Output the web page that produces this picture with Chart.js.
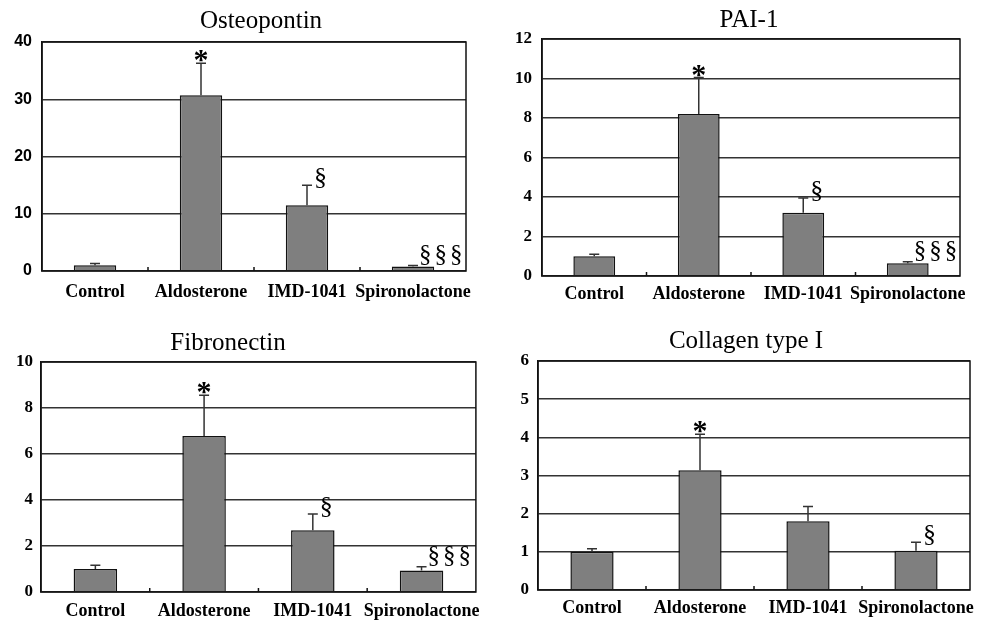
<!DOCTYPE html>
<html>
<head>
<meta charset="utf-8">
<script src="https://cdn.jsdelivr.net/npm/chart.js@4.4.1/dist/chart.umd.min.js"></script>
<style>
  html, body { margin: 0; padding: 0; background: #fff; }
  body { width: 986px; height: 623px; position: relative; overflow: hidden; }
  .panel { position: absolute; }
</style>
</head>
<body>
<div class="panel" id="p1" style="left:0;top:0;width:490px;height:310px"><canvas id="c1"></canvas></div>
<div class="panel" id="p2" style="left:490px;top:0;width:496px;height:310px"><canvas id="c2"></canvas></div>
<div class="panel" id="p3" style="left:0;top:310px;width:490px;height:313px"><canvas id="c3"></canvas></div>
<div class="panel" id="p4" style="left:490px;top:310px;width:496px;height:313px"><canvas id="c4"></canvas></div>
<script>
// --- Data ---
const groups = ['Control', 'Aldosterone', 'IMD-1041', 'Spironolactone'];

const osteoMean = [1.0, 30.7, 11.5, 0.8];
const osteoSE = [0.3, 5.6, 3.5, 0.15];
const osteoMarks = ['', '*', '§', '§§§'];

const paiMean = [1.0, 8.2, 3.2, 0.65];
const paiSE = [0.1, 1.85, 0.75, 0.07];
const paiMarks = ['', '*', '§', '§§§'];

const fibroMean = [1.0, 6.78, 2.68, 0.93];
const fibroSE = [0.16, 1.77, 0.71, 0.17];
const fibroMarks = ['', '*', '§', '§§§'];

const collMean = [1.0, 3.14, 1.8, 1.03];
const collSE = [0.08, 0.94, 0.39, 0.22];
const collMarks = ['', '*', '', '§'];

const SERIF = '"Liberation Serif", "Times New Roman", serif';
const SANS = '"Liberation Sans", Arial, sans-serif';

// error bars, markers, frame and inner category ticks
const extrasPlugin = {
    id: 'extras',
    afterDatasetsDraw(chart, args, opts) {
        const ctx = chart.ctx;
        const y = chart.scales.y;
        const x = chart.scales.x;
        const area = chart.chartArea;
        const meta = chart.getDatasetMeta(0);
        const mean = chart.data.datasets[0].data;

        ctx.save();
        ctx.lineWidth = 1.5;

        // frame
        ctx.strokeStyle = '#111';
        ctx.strokeRect(area.left, area.top, area.right - area.left, area.bottom - area.top);

        // small inward ticks between categories
        const step = x.getPixelForValue(1) - x.getPixelForValue(0);
        for (let i = 1; i < groups.length; i++) {
            const bx = x.getPixelForValue(i) - step / 2;
            ctx.beginPath();
            ctx.moveTo(bx, area.bottom);
            ctx.lineTo(bx, area.bottom - 4);
            ctx.stroke();
        }

        ctx.strokeStyle = '#333';
        meta.data.forEach((bar, i) => {
            const top = y.getPixelForValue(mean[i]);
            const errTop = y.getPixelForValue(mean[i] + opts.se[i]);
            ctx.beginPath();
            ctx.moveTo(bar.x, top);
            ctx.lineTo(bar.x, errTop);
            ctx.moveTo(bar.x - 5, errTop);
            ctx.lineTo(bar.x + 5, errTop);
            ctx.stroke();

            const m = opts.marks[i];
            if (!m) return;
            ctx.fillStyle = '#000';
            ctx.textBaseline = 'alphabetic';
            if (m === '*') {
                ctx.font = 'bold 30px ' + SERIF;
                ctx.textAlign = 'center';
                ctx.fillText(m, bar.x, errTop + 6);
            } else if (m.length === 1) {
                ctx.font = '26px ' + SERIF;
                ctx.textAlign = 'left';
                ctx.fillText(m, bar.x + 7, errTop);
            } else {
                ctx.font = '25px ' + SERIF;
                ctx.letterSpacing = '3px';
                ctx.textAlign = 'left';
                ctx.fillText(m, bar.x + 6, errTop - 4);
                ctx.letterSpacing = '0px';
            }
        });

        // panel title
        ctx.font = '25px ' + SERIF;
        ctx.textAlign = 'center';
        ctx.fillText(opts.title, opts.titleX, opts.titleY);
        ctx.restore();
    }
};

function makePanel(id, mean, se, marks, max, stepSize, cfg) {
    const canvas = document.getElementById(id);
    new Chart(canvas.getContext('2d'), {
        type: 'bar',
        data: {
            labels: groups,
            datasets: [{
                data: mean,
                backgroundColor: '#7f7f7f',
                borderColor: '#111',
                borderWidth: 1.5,
                barPercentage: 0.4,
                categoryPercentage: 1.0
            }]
        },
        options: {
            responsive: true,
            maintainAspectRatio: false,
            animation: false,
            layout: {
                padding: { left: 0, top: cfg.top, right: cfg.w - cfg.right, bottom: 0 }
            },
            plugins: {
                legend: { display: false },
                tooltip: { enabled: false },
                extras: { se: se, marks: marks, title: cfg.title, titleX: cfg.titleX, titleY: cfg.titleY }
            },
            scales: {
                x: {
                    grid: { display: false, drawTicks: false },
                    border: { display: false },
                    ticks: {
                        color: '#000',
                        padding: cfg.xPad,
                        maxRotation: 0,
                        autoSkip: false,
                        font: { family: SERIF, size: 18, weight: 'bold' }
                    },
                    afterFit: s => { s.height = cfg.h - cfg.bottom; }
                },
                y: {
                    min: 0,
                    max: max,
                    grid: { color: '#333', lineWidth: 1.5, drawTicks: false },
                    border: { display: true, color: '#111', width: 1.5 },
                    ticks: {
                        stepSize: stepSize,
                        color: '#000',
                        padding: cfg.yPad,
                        font: { family: cfg.tickFamily, size: cfg.tickSize, weight: 'bold' }
                    },
                    afterFit: s => { s.width = cfg.left; }
                }
            }
        },
        plugins: [extrasPlugin]
    });
}

makePanel('c1', osteoMean, osteoSE, osteoMarks, 40, 10,
    { w: 490, h: 310, left: 42, top: 42, right: 466, bottom: 271, xPad: 11, yPad: 10,
      tickFamily: SANS, tickSize: 16,
      title: 'Osteopontin', titleX: 261, titleY: 28 });
makePanel('c2', paiMean, paiSE, paiMarks, 12, 2,
    { w: 496, h: 310, left: 52, top: 39, right: 470, bottom: 276, xPad: 8, yPad: 10,
      tickFamily: SERIF, tickSize: 17,
      title: 'PAI-1', titleX: 259, titleY: 27 });
makePanel('c3', fibroMean, fibroSE, fibroMarks, 10, 2,
    { w: 490, h: 313, left: 41, top: 52, right: 477, bottom: 282, xPad: 9, yPad: 8,
      tickFamily: SERIF, tickSize: 17,
      title: 'Fibronectin', titleX: 228, titleY: 40 });
makePanel('c4', collMean, collSE, collMarks, 6, 1,
    { w: 496, h: 313, left: 48, top: 51, right: 480, bottom: 280, xPad: 8, yPad: 9,
      tickFamily: SERIF, tickSize: 17,
      title: 'Collagen type I', titleX: 256, titleY: 38 });
</script>
</body>
</html>
